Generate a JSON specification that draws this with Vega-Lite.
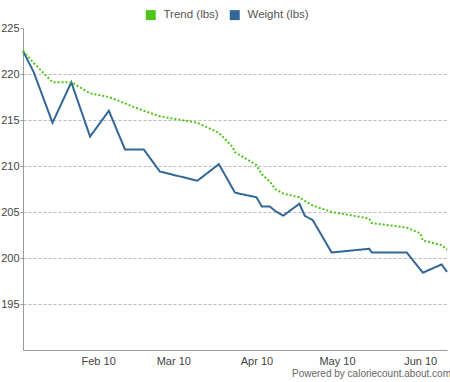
{
  "$schema": "https://vega.github.io/schema/vega-lite/v6.json",
  "autosize": "none",
  "width": 424,
  "height": 322,
  "padding": {"left": 23, "top": 28, "right": 3, "bottom": 32},
  "background": "white",
  "config": {
    "view": {"stroke": null},
    "font": "Liberation Sans",
    "axis": {"labelFont": "Liberation Sans", "labelFontSize": 11, "labelColor": "#444", "domainColor": "#999", "tickColor": "#999"}
  },
  "title": {"text": "Powered by caloriecount.about.com", "orient": "bottom", "anchor": "end", "fontSize": 10, "fontWeight": "normal", "color": "#666", "font": "Liberation Sans", "offset": 3},
  "data": {
    "values": [
      {"date": "2010-01-13", "series": "Weight (lbs)", "value": 222.5},
      {"date": "2010-01-17", "series": "Weight (lbs)", "value": 220.2},
      {"date": "2010-01-24", "series": "Weight (lbs)", "value": 214.7},
      {"date": "2010-01-31", "series": "Weight (lbs)", "value": 219.1},
      {"date": "2010-02-07", "series": "Weight (lbs)", "value": 213.2},
      {"date": "2010-02-14", "series": "Weight (lbs)", "value": 216.0},
      {"date": "2010-02-20", "series": "Weight (lbs)", "value": 211.8},
      {"date": "2010-02-27", "series": "Weight (lbs)", "value": 211.8},
      {"date": "2010-03-05", "series": "Weight (lbs)", "value": 209.4},
      {"date": "2010-03-19", "series": "Weight (lbs)", "value": 208.4},
      {"date": "2010-03-27", "series": "Weight (lbs)", "value": 210.2},
      {"date": "2010-04-02", "series": "Weight (lbs)", "value": 207.1},
      {"date": "2010-04-10", "series": "Weight (lbs)", "value": 206.6},
      {"date": "2010-04-12", "series": "Weight (lbs)", "value": 205.6},
      {"date": "2010-04-15", "series": "Weight (lbs)", "value": 205.6},
      {"date": "2010-04-17", "series": "Weight (lbs)", "value": 205.1},
      {"date": "2010-04-20", "series": "Weight (lbs)", "value": 204.6},
      {"date": "2010-04-26", "series": "Weight (lbs)", "value": 205.9},
      {"date": "2010-04-28", "series": "Weight (lbs)", "value": 204.6},
      {"date": "2010-05-01", "series": "Weight (lbs)", "value": 204.1},
      {"date": "2010-05-08", "series": "Weight (lbs)", "value": 200.6},
      {"date": "2010-05-22", "series": "Weight (lbs)", "value": 201.0},
      {"date": "2010-05-23", "series": "Weight (lbs)", "value": 200.6},
      {"date": "2010-06-05", "series": "Weight (lbs)", "value": 200.6},
      {"date": "2010-06-11", "series": "Weight (lbs)", "value": 198.4},
      {"date": "2010-06-18", "series": "Weight (lbs)", "value": 199.3},
      {"date": "2010-06-20", "series": "Weight (lbs)", "value": 198.5},
      {"date": "2010-01-13", "series": "Trend (lbs)", "value": 222.5},
      {"date": "2010-01-17", "series": "Trend (lbs)", "value": 221.2},
      {"date": "2010-01-24", "series": "Trend (lbs)", "value": 219.1},
      {"date": "2010-01-31", "series": "Trend (lbs)", "value": 219.1},
      {"date": "2010-02-07", "series": "Trend (lbs)", "value": 217.9},
      {"date": "2010-02-14", "series": "Trend (lbs)", "value": 217.5},
      {"date": "2010-02-20", "series": "Trend (lbs)", "value": 216.8},
      {"date": "2010-02-27", "series": "Trend (lbs)", "value": 216.0},
      {"date": "2010-03-05", "series": "Trend (lbs)", "value": 215.4},
      {"date": "2010-03-19", "series": "Trend (lbs)", "value": 214.7},
      {"date": "2010-03-27", "series": "Trend (lbs)", "value": 213.6},
      {"date": "2010-04-01", "series": "Trend (lbs)", "value": 212.1},
      {"date": "2010-04-02", "series": "Trend (lbs)", "value": 211.5},
      {"date": "2010-04-10", "series": "Trend (lbs)", "value": 210.1},
      {"date": "2010-04-12", "series": "Trend (lbs)", "value": 209.1},
      {"date": "2010-04-15", "series": "Trend (lbs)", "value": 208.3},
      {"date": "2010-04-17", "series": "Trend (lbs)", "value": 207.5},
      {"date": "2010-04-20", "series": "Trend (lbs)", "value": 207.0},
      {"date": "2010-04-26", "series": "Trend (lbs)", "value": 206.6},
      {"date": "2010-04-28", "series": "Trend (lbs)", "value": 206.2},
      {"date": "2010-05-01", "series": "Trend (lbs)", "value": 205.7},
      {"date": "2010-05-08", "series": "Trend (lbs)", "value": 205.0},
      {"date": "2010-05-22", "series": "Trend (lbs)", "value": 204.3},
      {"date": "2010-05-23", "series": "Trend (lbs)", "value": 203.8},
      {"date": "2010-06-05", "series": "Trend (lbs)", "value": 203.3},
      {"date": "2010-06-10", "series": "Trend (lbs)", "value": 202.7},
      {"date": "2010-06-11", "series": "Trend (lbs)", "value": 201.9},
      {"date": "2010-06-18", "series": "Trend (lbs)", "value": 201.4},
      {"date": "2010-06-20", "series": "Trend (lbs)", "value": 200.9}
    ]
  },
  "mark": {"type": "line", "strokeWidth": 2, "interpolate": "linear"},
  "encoding": {
    "x": {
      "field": "date", "type": "temporal",
      "scale": {"type": "utc", "domain": [{"year": 2010, "month": 1, "date": 13, "utc": true}, {"year": 2010, "month": 6, "date": 20, "utc": true}], "nice": false},
      "axis": {
        "title": null, "grid": false, "ticks": false, "labelPadding": 5, "format": "%b %d",
        "values": [
          {"year": 2010, "month": 2, "date": 10, "utc": true},
          {"year": 2010, "month": 3, "date": 10, "utc": true},
          {"year": 2010, "month": 4, "date": 10, "utc": true},
          {"year": 2010, "month": 5, "date": 10, "utc": true},
          {"year": 2010, "month": 6, "date": 10, "utc": true}
        ]
      }
    },
    "y": {
      "field": "value", "type": "quantitative",
      "scale": {"domain": [190, 225], "nice": false, "zero": false},
      "axis": {
        "title": null, "values": [195, 200, 205, 210, 215, 220, 225],
        "tickSize": 3, "labelPadding": 1, "grid": true, "gridColor": "#bbb", "gridDash": [3, 2],
        "gridOpacity": {"condition": {"test": "datum.value == 225", "value": 0}, "value": 1}
      }
    },
    "color": {
      "field": "series", "type": "nominal",
      "scale": {"domain": ["Trend (lbs)", "Weight (lbs)"], "range": ["#4fc51a", "#336699"]},
      "legend": {
        "title": null, "orient": "none", "legendX": 122, "legendY": -19, "direction": "horizontal",
        "symbolType": "square", "symbolSize": 100, "symbolStrokeWidth": 0,
        "labelFontSize": 11.5, "labelColor": "#555", "labelFont": "Liberation Sans", "labelOffset": 7, "columnPadding": 10,
        "encode": {"symbols": {"update": {"fill": {"scale": "color", "field": "value"}, "fillOpacity": {"value": 1}, "strokeWidth": {"value": 0}}}}
      }
    },
    "strokeDash": {
      "field": "series", "type": "nominal",
      "scale": {"domain": ["Trend (lbs)", "Weight (lbs)"], "range": [[2, 2], [1, 0]]},
      "legend": null
    }
  }
}
